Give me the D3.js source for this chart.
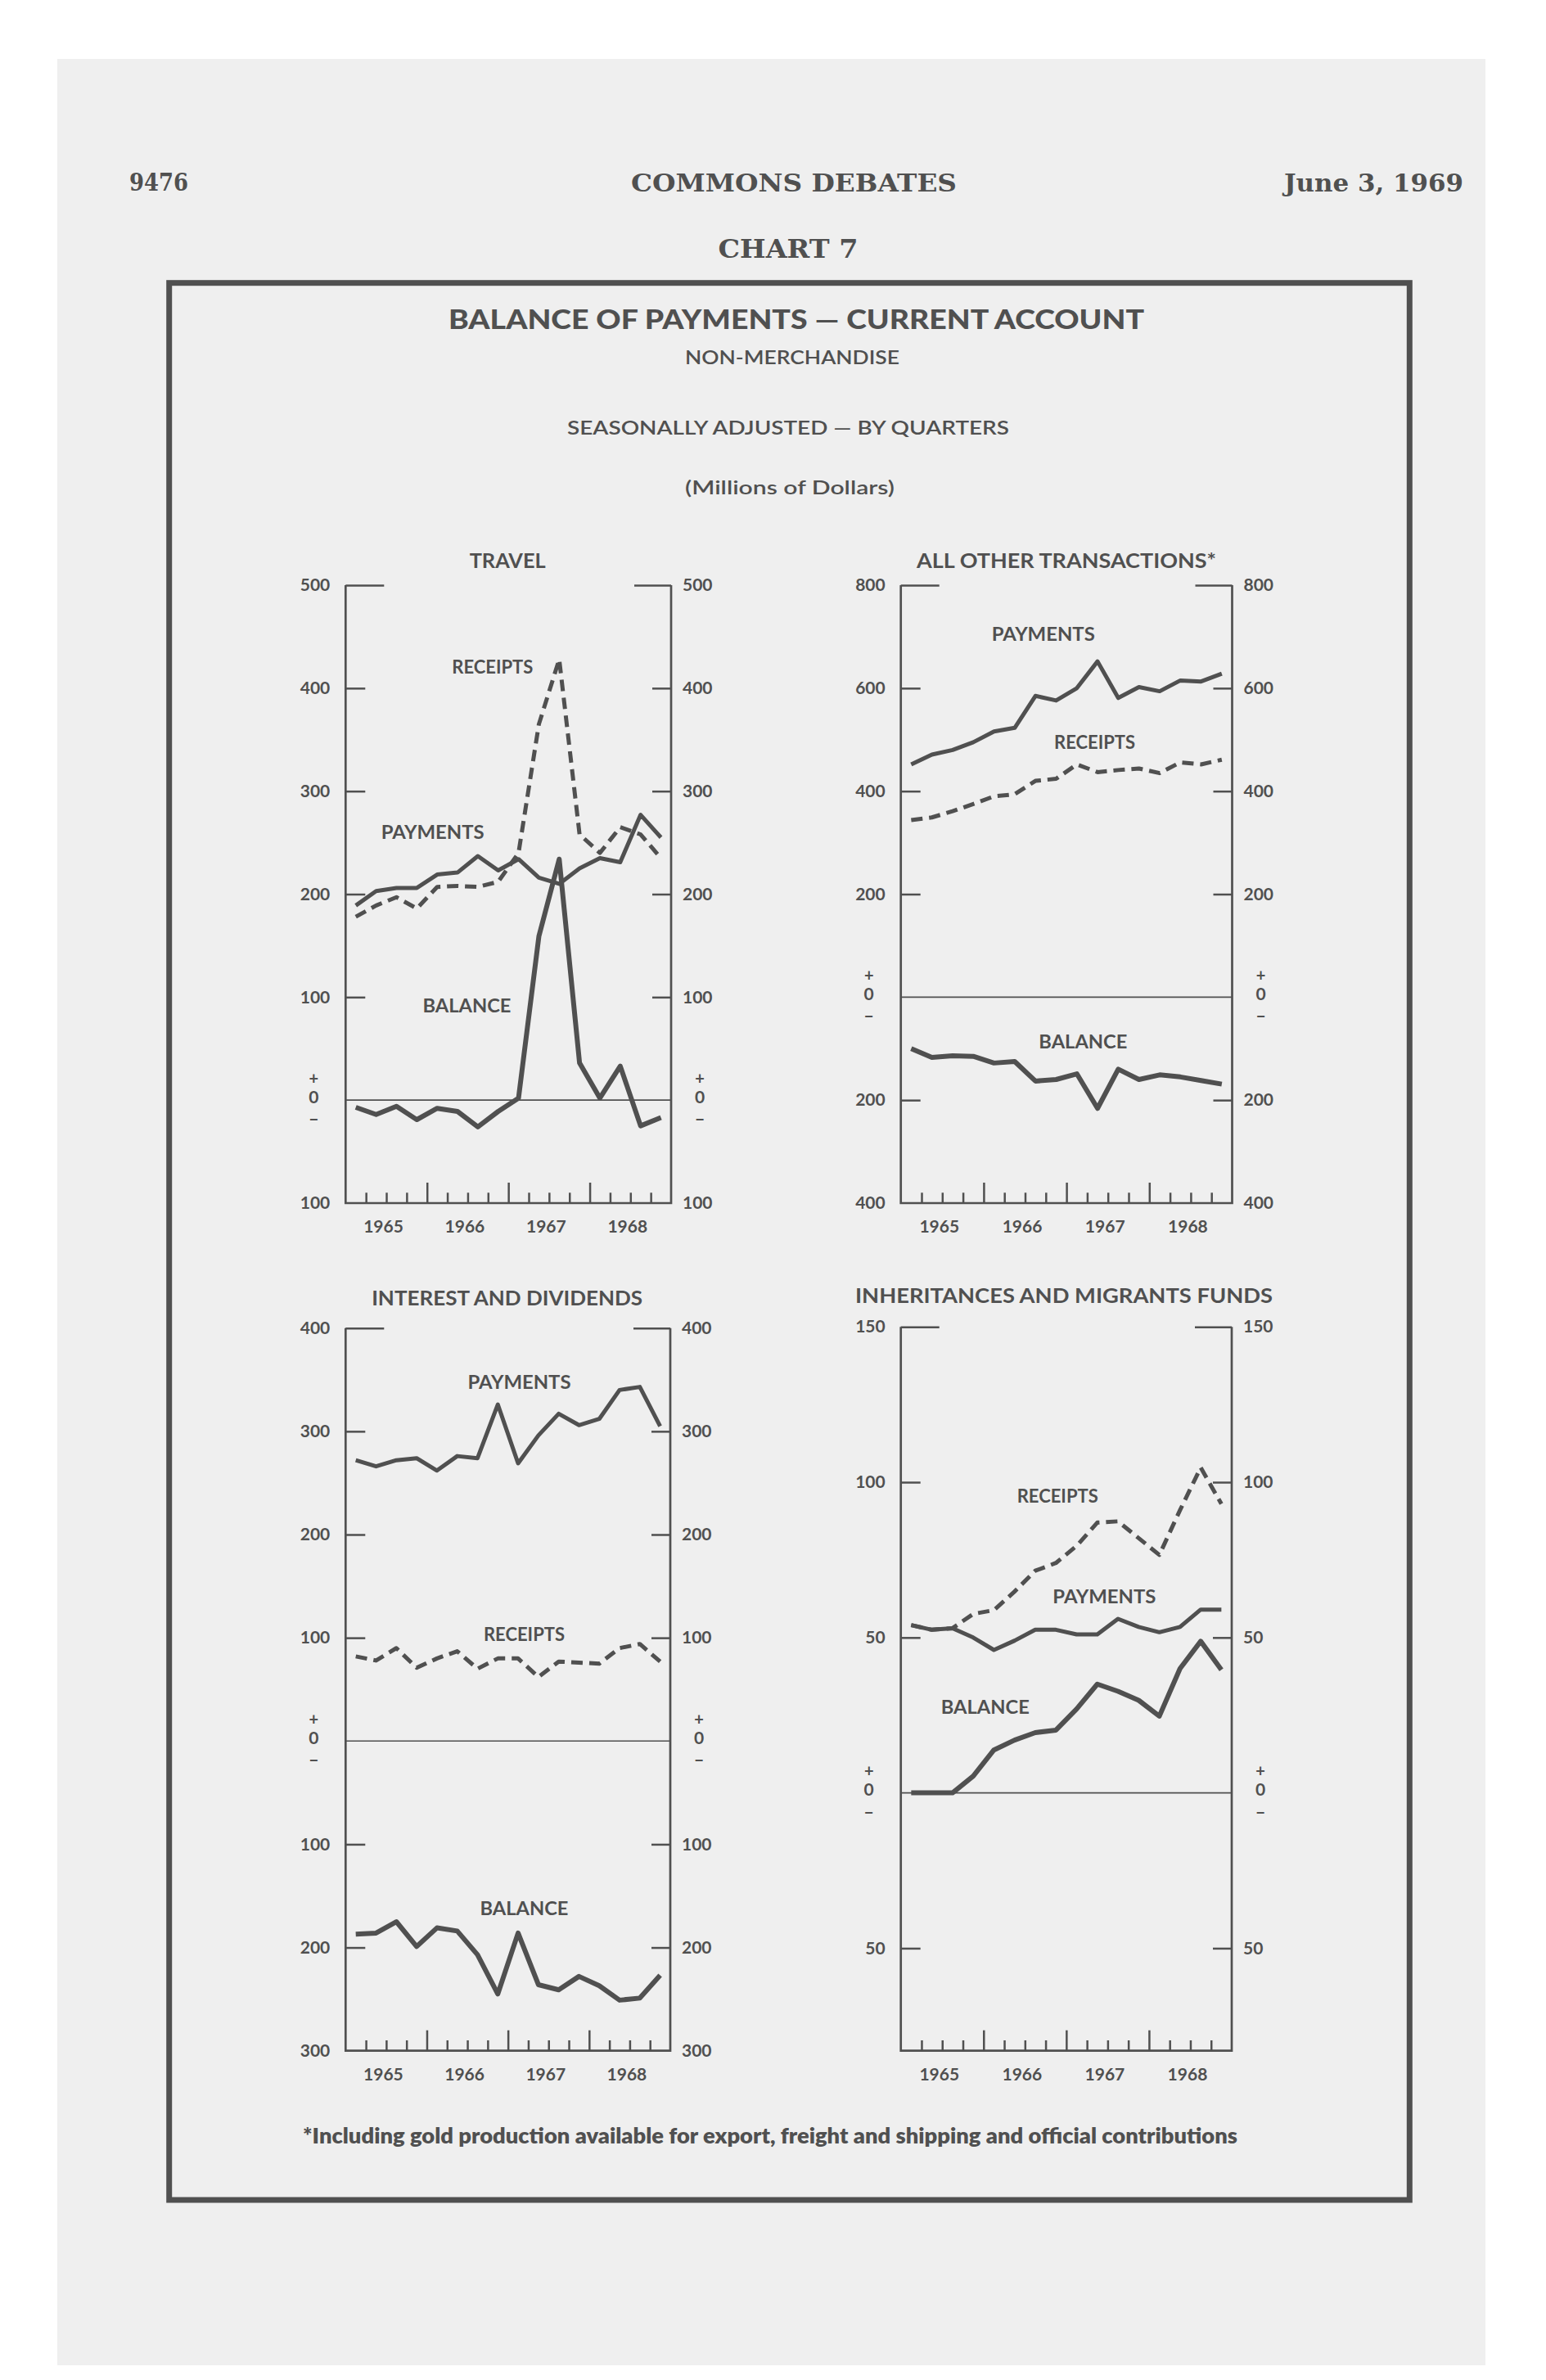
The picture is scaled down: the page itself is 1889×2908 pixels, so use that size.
<!DOCTYPE html>
<html>
<head>
<meta charset="utf-8">
<script src="https://cdn.jsdelivr.net/npm/d3@7"></script>
<style>
  body { margin: 0; background: #fff; }
</style>
</head>
<body>
<div id="chart"></div>
<script>
var quarters = ["1965 Q1", "1965 Q2", "1965 Q3", "1965 Q4",
                "1966 Q1", "1966 Q2", "1966 Q3", "1966 Q4",
                "1967 Q1", "1967 Q2", "1967 Q3", "1967 Q4",
                "1968 Q1", "1968 Q2", "1968 Q3", "1968 Q4"];
var years = [1965, 1966, 1967, 1968];

var travelReceipts = [178, 189, 197, 186, 207, 208, 207, 212, 240, 365, 428, 258, 240, 265, 258, 235];
var travelPayments = [189, 203, 206, 206, 219, 221, 237, 223, 234, 216, 210, 225, 235, 231, 277, 255];
var travelBalance  = [-7, -14, -6, -19, -8, -11, -26, -11, 2, 159, 234, 36, 2, 33, -25, -17];
var travelTicks = [500, 400, 300, 200, 100, 0, -100];

var otherPayments = [452, 471, 480, 495, 516, 523, 585, 576, 600, 652, 581, 602, 594, 615, 613, 628];
var otherReceipts = [344, 349, 361, 375, 390, 394, 420, 424, 452, 437, 441, 444, 435, 456, 452, 461];
var otherBalance  = [-100, -117, -114, -115, -128, -125, -163, -160, -149, -216, -140, -160, -151, -155, -162, -169];
var otherTicks = [800, 600, 400, 200, 0, -200, -400];

var interestPayments = [272, 266, 272, 274, 262, 276, 274, 326, 269, 296, 317, 306, 312, 340, 343, 305];
var interestReceipts = [82, 78, 90, 71, 80, 87, 70, 80, 80, 62, 77, 76, 75, 90, 94, 77];
var interestBalance  = [-187, -186, -175, -199, -181, -184, -207, -245, -186, -236, -241, -228, -237, -251, -249, -227];
var interestTicks = [400, 300, 200, 100, 0, -100, -200, -300];

var inheritReceipts = [54, 52.5, 53, 57.6, 58.8, 64.8, 71.5, 74, 79.5, 87, 87.4, 82, 76.6, 91, 104.7, 93];
var inheritPayments = [54, 52.5, 53, 50, 46, 49, 52.5, 52.5, 51, 51, 56, 53.4, 51.7, 53.4, 59, 59];
var inheritBalance  = [0, 0, 0, 5.4, 13.8, 17, 19.4, 20.2, 27, 35, 32.7, 29.8, 24.7, 40, 48.8, 39.6];
var inheritTicks = [150, 100, 50, 0, -50];

var ink = "#505050";
var font = "Lato, 'Open Sans', sans-serif";

// mid-point of each quarter on a year scale
function quarterTime(q) {
    var parts = q.split(" Q");
    return +parts[0] + (+parts[1] - 1) * 0.25 + 0.125;
}

function series(values) {
    return values.map(function(v, i) { return {t: quarterTime(quarters[i]), v: v}; });
}

var svg = d3.select("#chart").append("svg")
    .attr("width", 1889)
    .attr("height", 2908);

// scanned page
svg.append("rect").attr("x", 70).attr("y", 72).attr("width", 1745).attr("height", 2818)
    .attr("fill", "#efefef");

// page header
function txt(s, x, y, size, opts) {
    opts = opts || {};
    var t = svg.append("text")
        .attr("x", x).attr("y", y)
        .attr("font-size", size)
        .attr("font-family", opts.family || font)
        .attr("font-weight", opts.weight || 700)
        .attr("text-anchor", opts.anchor || "middle")
        .attr("fill", ink)
        .text(s);
    if (opts.len) t.attr("textLength", opts.len).attr("lengthAdjust", "spacingAndGlyphs");
    return t;
}
var slab = "'DejaVu Serif', serif";
txt("9476", 158, 233, 30, {family: slab, anchor: "start", len: 72});
txt("COMMONS DEBATES", 970, 234, 30, {family: slab, len: 398});
txt("June 3, 1969", 1788, 234, 30, {family: slab, anchor: "end", len: 219});
txt("CHART 7", 963, 315, 32, {family: slab, len: 171});

svg.append("rect")
    .attr("x", 206.7).attr("y", 345.7)
    .attr("width", 1722.3 - 206.7).attr("height", 2688 - 345.7)
    .attr("fill", "none").attr("stroke", ink).attr("stroke-width", 7);

txt("BALANCE OF PAYMENTS \u2014 CURRENT ACCOUNT", 973, 402, 33, {len: 850, weight: 900});
txt("NON-MERCHANDISE", 968, 445, 22, {len: 262, weight: 600});
txt("SEASONALLY ADJUSTED \u2014 BY QUARTERS", 963, 531, 22, {len: 540, weight: 600});
txt("(Millions of Dollars)", 965, 604, 22, {len: 256, weight: 600});
txt("*Including gold production available for export, freight and shipping and official contributions",
    941, 2619, 26, {len: 1142, weight: 800});

var panels = [
    {title: "TRAVEL", left: 422.3, right: 820, top: 715, bottom: 1470, titleGap: 30,
     domain: [-100, 500], ticks: travelTicks,
     receipts: travelReceipts, payments: travelPayments, balance: travelBalance,
     labels: [["RECEIPTS", 1966.805, 420.5], ["PAYMENTS", 1966.07, 260], ["BALANCE", 1966.49, 92]]},
    {title: "ALL OTHER TRANSACTIONS*", left: 1100.7, right: 1505.5, top: 715, bottom: 1470, titleGap: 30,
     domain: [-400, 800], ticks: otherTicks,
     receipts: otherReceipts, payments: otherPayments, balance: otherBalance,
     labels: [["PAYMENTS", 1966.72, 705], ["RECEIPTS", 1967.34, 496], ["BALANCE", 1967.20, -87]]},
    {title: "INTEREST AND DIVIDENDS", left: 422.3, right: 819, top: 1622.7, bottom: 2505.7, titleGap: 37,
     domain: [-300, 400], ticks: interestTicks,
     receipts: interestReceipts, payments: interestPayments, balance: interestBalance,
     labels: [["PAYMENTS", 1967.14, 348], ["RECEIPTS", 1967.20, 103.5], ["BALANCE", 1967.20, -162]]},
    {title: "INHERITANCES AND MIGRANTS FUNDS", left: 1100.7, right: 1505, top: 1621.2, bottom: 2505.7, titleGap: 38,
     domain: [-83, 150], ticks: inheritTicks,
     receipts: inheritReceipts, payments: inheritPayments, balance: inheritBalance,
     labels: [["RECEIPTS", 1966.895, 95.6], ["PAYMENTS", 1967.46, 63.2], ["BALANCE", 1966.02, 27.7]]}
];

var labelLen = {RECEIPTS: 99, PAYMENTS: 126, BALANCE: 108};
var titleLen = {"TRAVEL": 93, "ALL OTHER TRANSACTIONS*": 366, "INTEREST AND DIVIDENDS": 331,
                "INHERITANCES AND MIGRANTS FUNDS": 510};

function styleAxis(a) {
    a.select(".domain").remove();
    a.attr("font-family", font).attr("font-size", 21).attr("font-weight", 700);
    a.selectAll("text").attr("fill", ink);
    a.selectAll(".tick line").attr("stroke", ink).attr("stroke-width", 2.5);
}

function drawPanel(p) {
    var x = d3.scaleLinear().domain([1965, 1969]).range([p.left, p.right]);
    var y = d3.scaleLinear().domain(p.domain).range([p.bottom, p.top]);
    var g = svg.append("g");
    var top = p.domain[1], bottom = p.domain[0];
    var fmt = function(d) { return (d === 0 || d === p.domain[0] && p.ticks.indexOf(d) < 0) ? "" : Math.abs(d); };

    // left and right value axes, ticks pointing inward
    var la = g.append("g").attr("transform", "translate(" + p.left + ",0)")
        .call(d3.axisLeft(y).tickValues(p.ticks).tickSize(-24).tickPadding(19).tickFormat(fmt));
    styleAxis(la);
    la.selectAll(".tick line").attr("x2", function(d) { return d === top ? 47 : (d === 0 || d === bottom) ? 0 : 24; });

    var ra = g.append("g").attr("transform", "translate(" + p.right + ",0)")
        .call(d3.axisRight(y).tickValues(p.ticks).tickSize(-23).tickPadding(14).tickFormat(fmt));
    styleAxis(ra);
    ra.selectAll(".tick line").attr("x2", function(d) { return d === top ? -45 : (d === 0 || d === bottom) ? 0 : -23; });

    // + 0 - marker at the zero line
    [p.left - 39, p.right + 35].forEach(function(cx) {
        var z = g.append("g").attr("transform", "translate(" + cx + "," + y(0) + ")")
            .attr("font-family", font).attr("font-weight", 700).attr("fill", ink).attr("text-anchor", "middle");
        z.append("text").attr("y", -26).attr("dy", "0.32em").attr("font-size", 20).text("+");
        z.append("text").attr("y", -3).attr("dy", "0.32em").attr("font-size", 21).text("0");
        z.append("text").attr("y", 24).attr("dy", "0.32em").attr("font-size", 22).text("\u2013");
    });

    // frame and zero line
    g.append("path")
        .attr("d", d3.line()([[p.left, p.top], [p.left, p.bottom], [p.right, p.bottom], [p.right, p.top]]))
        .attr("fill", "none").attr("stroke", ink).attr("stroke-width", 2.7);
    g.append("line")
        .attr("x1", p.left).attr("x2", p.right).attr("y1", y(0)).attr("y2", y(0))
        .attr("stroke", ink).attr("stroke-width", 1.6);

    // quarter ticks and year ticks on the time axis
    var minor = [], major = years.slice(1);
    years.forEach(function(yr) { minor.push(yr + 0.25, yr + 0.5, yr + 0.75); });
    var ba = g.append("g").attr("transform", "translate(0," + p.bottom + ")")
        .call(d3.axisBottom(x).tickValues(minor).tickSize(-12.7).tickFormat(""));
    styleAxis(ba);
    var bm = g.append("g").attr("transform", "translate(0," + p.bottom + ")")
        .call(d3.axisBottom(x).tickValues(major).tickSize(-25).tickFormat(""));
    styleAxis(bm);
    var yl = g.append("g").attr("transform", "translate(-4," + p.bottom + ")")
        .call(d3.axisBottom(x).tickValues(years.map(function(yr) { return yr + 0.5; }))
            .tickSize(0).tickPadding(21).tickFormat(function(d) { return Math.floor(d); }));
    styleAxis(yl);

    // title
    g.append("text")
        .attr("x", (p.title.length > 25 ? 1300 : (p.left + p.right) / 2 + (p.left < 500 ? -1 : 0)))
        .attr("y", p.top - p.titleGap).attr("dy", "0.36em")
        .attr("text-anchor", "middle")
        .attr("font-family", font).attr("font-size", 24.5).attr("font-weight", 700).attr("fill", ink)
        .attr("textLength", titleLen[p.title]).attr("lengthAdjust", "spacingAndGlyphs")
        .text(p.title);

    var line = d3.line().x(function(d) { return x(d.t); }).y(function(d) { return y(d.v); });

    g.append("path").datum(series(p.receipts)).attr("d", line)
        .attr("fill", "none").attr("stroke", ink).attr("stroke-width", 5)
        .attr("stroke-dasharray", "14,8").attr("stroke-linejoin", "round");
    g.append("path").datum(series(p.payments)).attr("d", line)
        .attr("fill", "none").attr("stroke", ink).attr("stroke-width", 5)
        .attr("stroke-linejoin", "round");
    g.append("path").datum(series(p.balance)).attr("d", line)
        .attr("fill", "none").attr("stroke", ink).attr("stroke-width", 6)
        .attr("stroke-linejoin", "round");

    g.selectAll(".series-label").data(p.labels).enter().append("text")
        .attr("class", "series-label")
        .attr("x", function(d) { return x(d[1]); })
        .attr("y", function(d) { return y(d[2]); })
        .attr("dy", "0.36em").attr("text-anchor", "middle")
        .attr("font-family", font).attr("font-size", 23).attr("font-weight", 700).attr("fill", ink)
        .attr("textLength", function(d) { return labelLen[d[0]]; }).attr("lengthAdjust", "spacingAndGlyphs")
        .text(function(d) { return d[0]; });
}

panels.forEach(drawPanel);
</script>
</body>
</html>
